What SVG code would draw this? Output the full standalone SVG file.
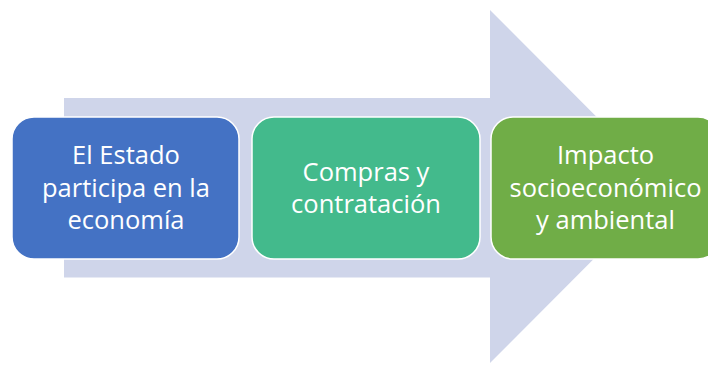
<svg xmlns="http://www.w3.org/2000/svg" width="708" height="365" viewBox="0 0 708 365">
<style>
.lbl{font-family:"Open Sans","Noto Sans","Liberation Sans",sans-serif;font-size:25.5px;fill:#ffffff;text-anchor:middle}
.box{stroke:#ffffff;stroke-width:1.5}
</style>
<rect width="708" height="365" fill="#ffffff"/>
<g id="connectors">
<path d="M64 98 H490 V10 L666 186.5 L490 363 V277.5 H64 Z" fill="#CFD5EA"/>
</g>
<g id="node1">
<rect class="box" x="12" y="117" width="227" height="142" rx="22" fill="#4472C4"/>
<text class="lbl" x="126" y="164">El Estado</text>
<text class="lbl" x="126" y="196.5">participa en la</text>
<text class="lbl" x="126" y="229">economía</text>
</g>
<g id="node2">
<rect class="box" x="252" y="117" width="228" height="142" rx="22" fill="#43BA8C"/>
<text class="lbl" x="366" y="180.5">Compras y</text>
<text class="lbl" x="366" y="213">contratación</text>
</g>
<g id="node3">
<rect class="box" x="491" y="117" width="229" height="142" rx="22" fill="#70AD47"/>
<text class="lbl" x="605.5" y="164">Impacto</text>
<text class="lbl" x="605.5" y="196.5">socioeconómico</text>
<text class="lbl" x="605.5" y="229">y ambiental</text>
</g>
</svg>
